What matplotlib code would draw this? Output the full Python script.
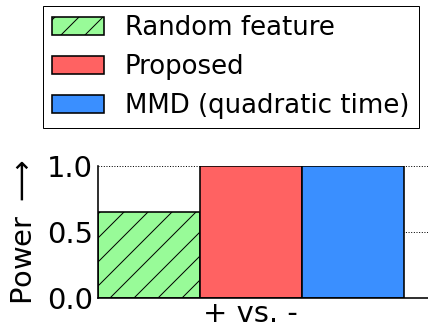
import matplotlib
matplotlib.use('Agg')
import matplotlib.pyplot as plt

methods = ['Random feature', 'Proposed', 'MMD (quadratic time)']
power = [0.655, 1.0, 1.0]
colors = ['#98fb98', '#ff6262', '#3a8fff']
hatches = ['/', '', '']
group_label = '+ vs. -'

plt.rcParams['hatch.linewidth'] = 1.0

dpi = 72
fig = plt.figure(figsize=(428 / dpi, 329 / dpi), dpi=dpi)
ax = fig.add_axes([98 / 428, 31 / 329, 1.0, 132 / 329])

for i, (name, val) in enumerate(zip(methods, power)):
    ax.bar(i, val, width=1.0, color=colors[i], edgecolor='black',
           linewidth=1.6, hatch=hatches[i], label=name, zorder=2)

ax.set_xlim(-0.5, 3.7)
ax.set_ylim(0, 1.0)
ax.set_yticks([0.0, 0.5, 1.0])
ax.set_xticks([1])
ax.set_xticklabels([group_label])
ax.tick_params(length=0, labelsize=29, pad=5)
ax.tick_params(axis='x', pad=2)
ax.yaxis.grid(True, linestyle=':', color='black', linewidth=1.0)
ax.set_axisbelow(True)
ax.spines['top'].set_visible(False)
ax.spines['right'].set_visible(False)
ax.spines['left'].set_linewidth(1.6)
ax.spines['bottom'].set_linewidth(1.6)
ax.set_ylabel('Power $\\longrightarrow$', fontsize=29, labelpad=9)

fig.legend(loc='upper left', bbox_to_anchor=(43 / 428, 1 - 6 / 329),
           borderaxespad=0, fancybox=False, edgecolor='black',
           framealpha=1, fontsize=26, handlelength=2.0, borderpad=0.35)

fig.savefig('out.png', dpi=dpi)
